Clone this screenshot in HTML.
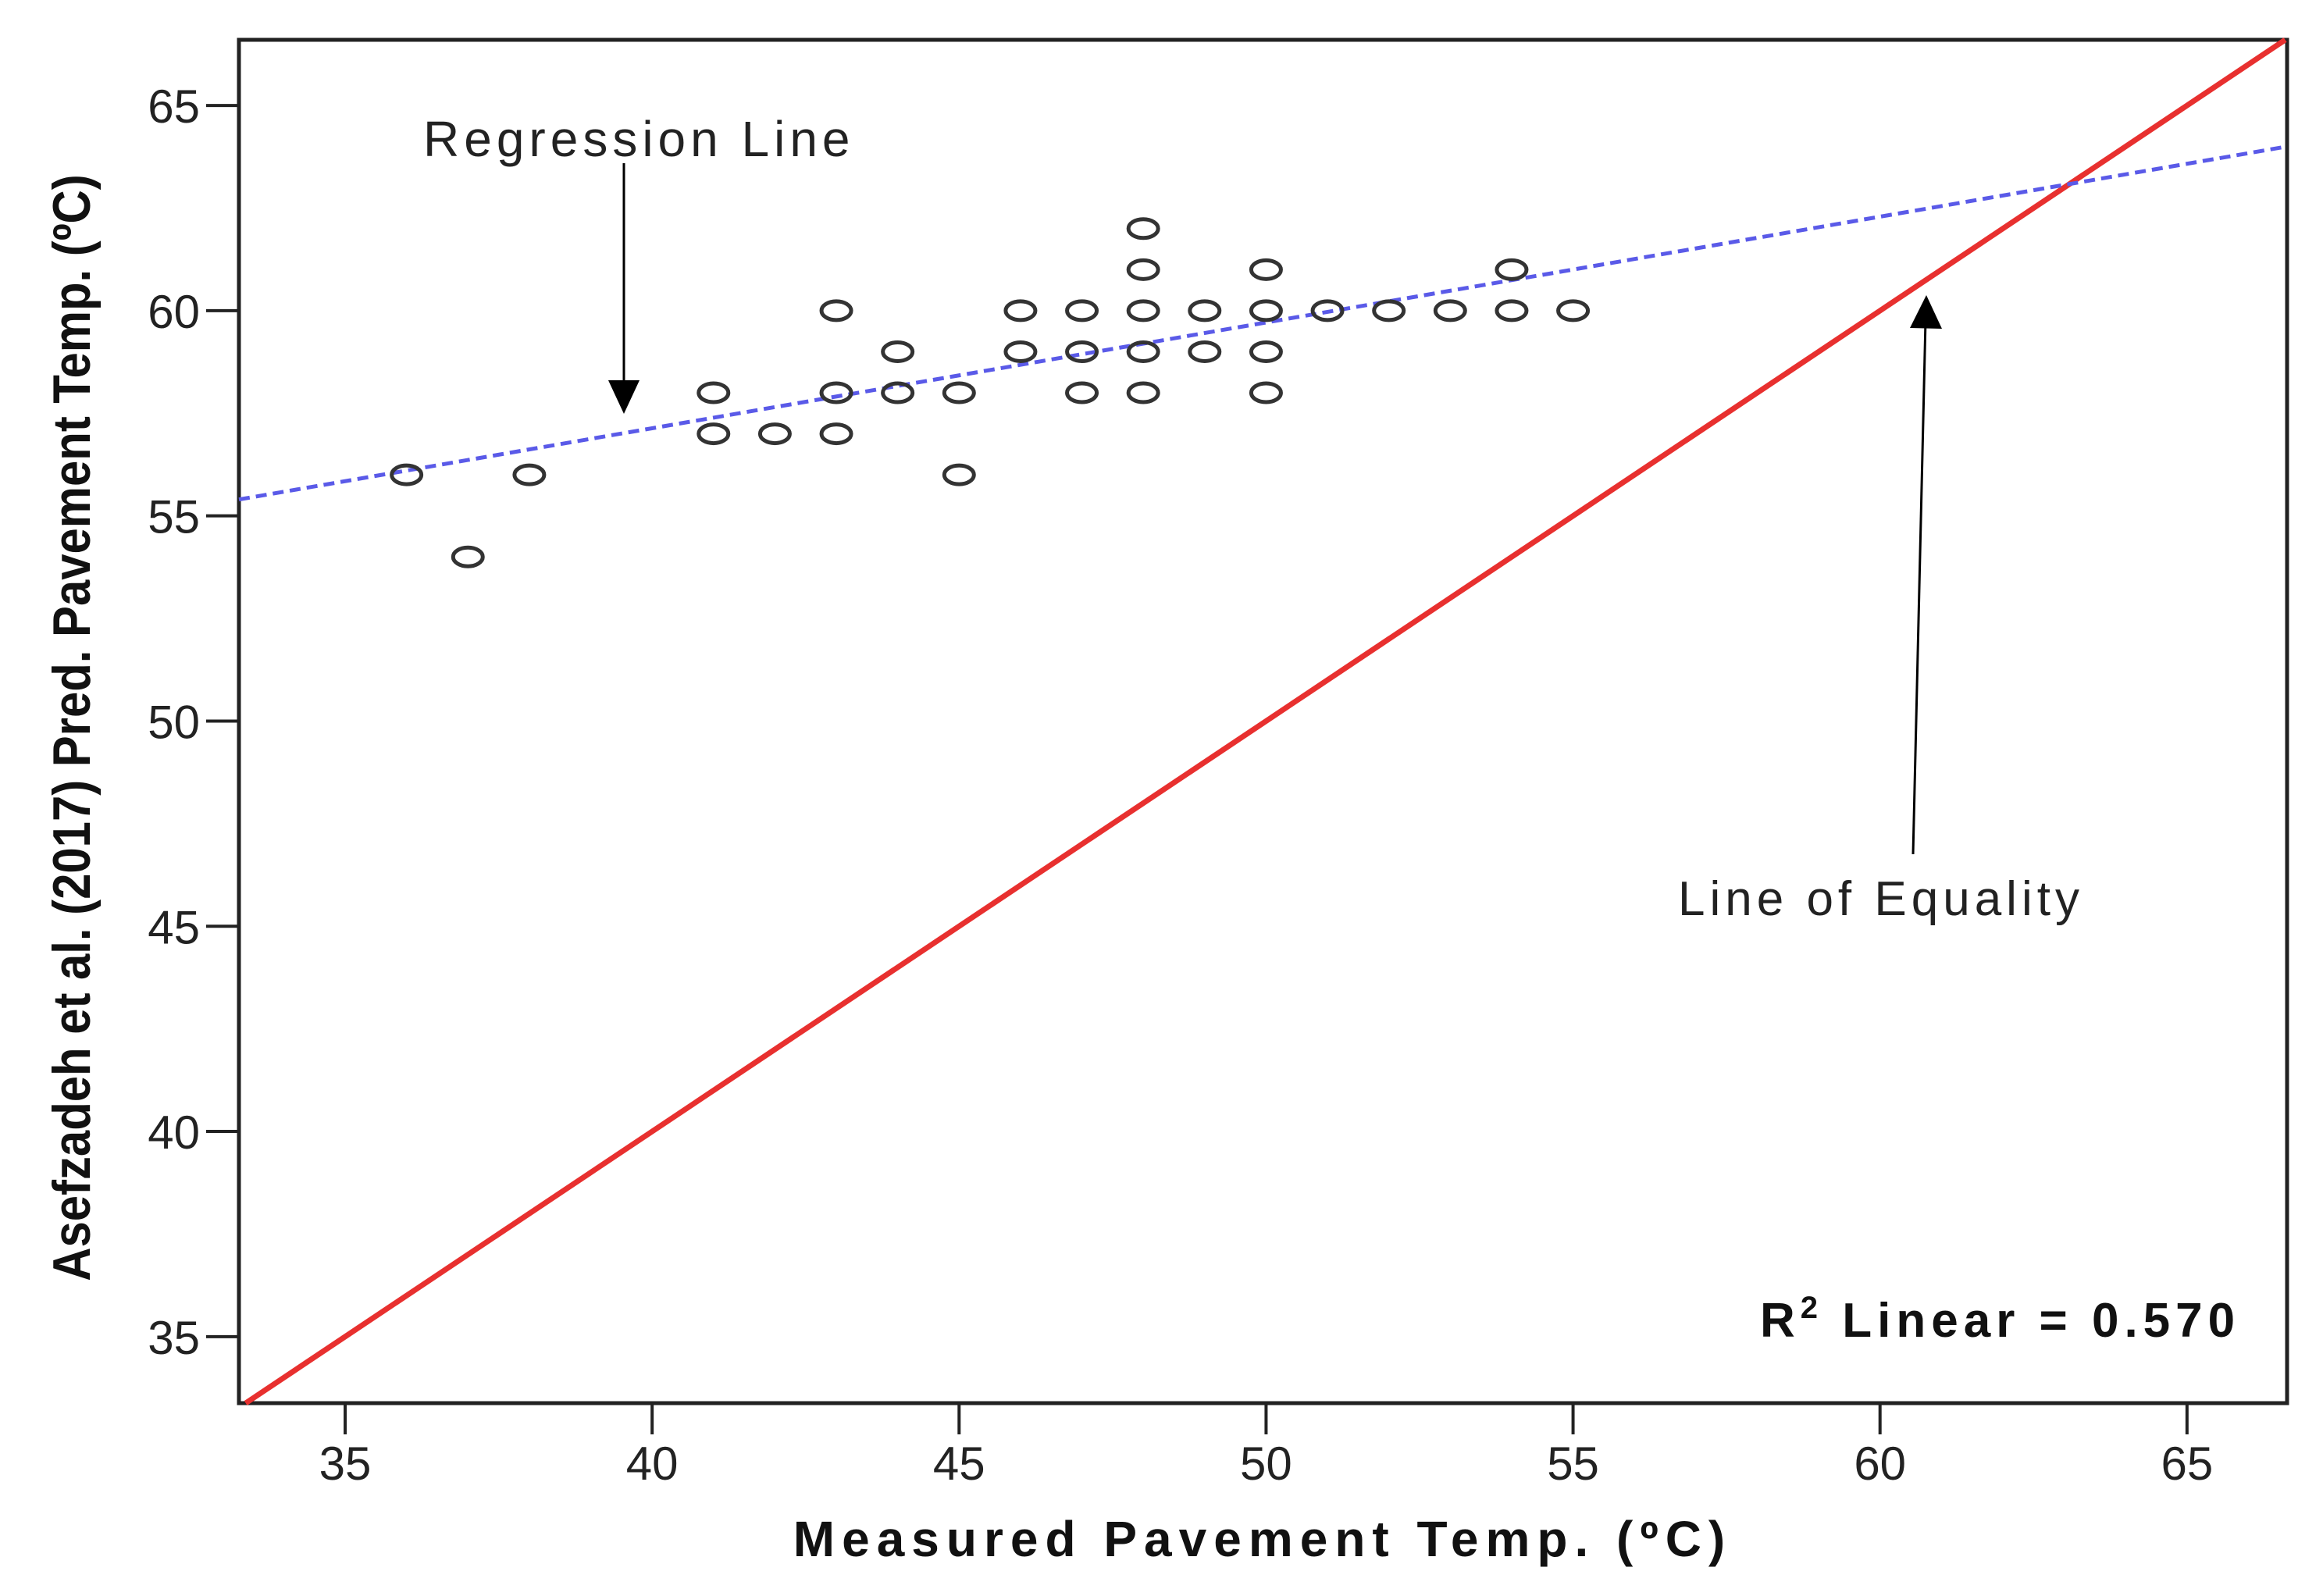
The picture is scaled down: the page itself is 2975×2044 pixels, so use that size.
<!DOCTYPE html>
<html><head><meta charset="utf-8"><style>
html,body{margin:0;padding:0;background:#fff}
svg{display:block}
text{font-family:"Liberation Sans",sans-serif}
</style></head><body>
<svg id="chart" width="2975" height="2044" viewBox="0 0 2975 2044" xmlns="http://www.w3.org/2000/svg">
<g id="plot"></g>
</svg>
<script>
const xTicks=[35,40,45,50,55,60,65];
const yTicks=[35,40,45,50,55,60,65];
const ptX=[36,37,38,41,41,42,43,43,43,44,44,45,45,46,46,47,47,47,48,48,48,48,48,49,49,50,50,50,50,51,52,53,54,54,55];
const ptY=[56,54,56,58,57,57,60,58,57,59,58,58,56,60,59,60,59,58,62,61,60,59,58,60,59,61,60,59,58,60,60,60,61,60,60];
const regX=[33.27,66.63];
const regY=[55.4,64.0];
const eqX=[33.38,66.6];
const eqY=[33.38,66.6];
const X0=306,X1=2929,Y0=1797,Y1=51;
const xMin=33.27,xMax=66.63,yMin=33.38,yMax=66.6;
function sx(v){return X0+(v-xMin)/(xMax-xMin)*(X1-X0);}
function sy(v){return Y0-(v-yMin)/(yMax-yMin)*(Y0-Y1);}
const NS='http://www.w3.org/2000/svg';
const g=document.getElementById('plot');
function mk(t,a,txt){const e=document.createElementNS(NS,t);for(const k in a)e.setAttribute(k,a[k]);if(txt!=null)e.textContent=txt;g.appendChild(e);return e;}
let e;
e=mk('rect',{x:X0,y:Y1,width:X1-X0,height:Y0-Y1,fill:'#fff',stroke:'#222','stroke-width':5});


xTicks.forEach(v=>{
 e=mk('line',{x1:sx(v),x2:sx(v),y1:Y0,y2:Y0+40,stroke:'#222','stroke-width':4});
 
 
 e=mk('text',{x:sx(v),y:Y0+98,'font-size':60,'text-anchor':'middle',fill:'#222'},v);
 
 
});
yTicks.forEach(v=>{
 e=mk('line',{x1:X0-42,x2:X0,y1:sy(v),y2:sy(v),stroke:'#222','stroke-width':4});
 
 
 e=mk('text',{x:X0-50,y:sy(v)+22,'font-size':60,'text-anchor':'end',fill:'#222'},v);
 
 
});
e=mk('line',{x1:sx(eqX[0]),y1:sy(eqY[0]),x2:sx(eqX[1]),y2:sy(eqY[1]),stroke:'#e8302f','stroke-width':7});


e=mk('line',{x1:sx(regX[0]),y1:sy(regY[0]),x2:sx(regX[1]),y2:sy(regY[1]),stroke:'#5a5ae8','stroke-width':5,'stroke-dasharray':'14 8'});


ptX.forEach((x,i)=>{
 e=mk('ellipse',{cx:sx(x),cy:sy(ptY[i]),rx:19,ry:12,fill:'none',stroke:'#333','stroke-width':5});
 
 
});
e=mk('text',{x:542,y:200,'font-size':64,fill:'#222','letter-spacing':6},'Regression Line');


e=mk('line',{x1:799,y1:209,x2:799,y2:490,stroke:'#000','stroke-width':3});


e=mk('polygon',{points:'779,487 819,487 799,530',fill:'#000'});


e=mk('text',{x:2149,y:1172,'font-size':62,fill:'#222','letter-spacing':6},'Line of Equality');


e=mk('line',{x1:2450,y1:1094,x2:2466,y2:410,stroke:'#000','stroke-width':3});


e=mk('polygon',{points:'2446,420 2487,421 2467,378',fill:'#000'});


e=mk('text',{x:2254,y:1712,'font-size':62,'font-weight':'bold',fill:'#111','letter-spacing':7},null);
e.innerHTML='R<tspan dy="-24" font-size="40">2</tspan><tspan dy="24">  Linear = 0.570</tspan>';


e=mk('text',{x:1617,y:1993,'font-size':64,'font-weight':'bold','text-anchor':'middle',fill:'#111','letter-spacing':9},'Measured Pavement Temp. (ºC)');


e=mk('text',{x:0,y:0,'font-size':68,'font-weight':'bold','text-anchor':'middle',fill:'#111',transform:'translate(115,932) rotate(-90) scale(0.88,1)'},'Asefzadeh et al. (2017) Pred. Pavement Temp. (ºC)');


</script>
</body></html>
